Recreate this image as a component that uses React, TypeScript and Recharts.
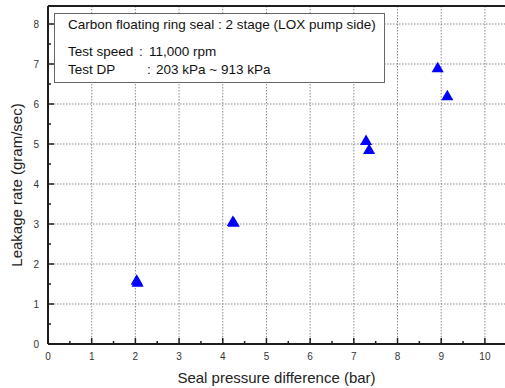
import { ScatterChart, Scatter, XAxis, YAxis, ZAxis, CartesianGrid, ReferenceLine } from "recharts";

// measured pairs (bar, gram/sec)
const pressureDiff = [2.03, 2.05, 4.23, 4.25, 7.28, 7.35, 8.92, 9.14];
const leakageRate = [1.57, 1.52, 3.04, 3.02, 5.06, 4.84, 6.88, 6.18];

const xTicks = [0, 0.5, 1, 1.5, 2, 2.5, 3, 3.5, 4, 4.5, 5, 5.5, 6, 6.5, 7, 7.5, 8, 8.5, 9, 9.5, 10];
const yTicks = [0, 0.5, 1, 1.5, 2, 2.5, 3, 3.5, 4, 4.5, 5, 5.5, 6, 6.5, 7, 7.5, 8];
const xGrid = [1, 2, 3, 4, 5, 6, 7, 8, 9, 10];
const yGrid = [1, 2, 3, 4, 5, 6, 7, 8];

const X_MAX = 10.46;
const Y_MAX = 8.45;

const noteTitle = "Carbon floating ring seal : 2 stage (LOX pump side)";
const noteRows = [
  { label: "Test speed", colonX: 139, valueX: 149, value: "11,000 rpm" },
  { label: "Test DP", colonX: 147, valueX: 156, value: "203 kPa ~ 913 kPa" },
];

const data = pressureDiff.map((x, i) => ({ x, y: leakageRate[i] }));

const FONT = "'Liberation Sans', Arial, sans-serif";
const AXIS_COLOR = "#1e1e1e";

// ticks point into the plot; half-unit ticks are shorter and unlabeled
function XTick(props: any) {
  const { x, y, payload } = props;
  const major = Number.isInteger(payload.value);
  return (
    <g>
      <line x1={x} y1={y} x2={x} y2={y - (major ? 6 : 3)} stroke={AXIS_COLOR} strokeWidth={1.5} />
      {major && (
        <text x={x} y={y + 16} textAnchor="middle" fontSize={10} fill="#333" fontFamily={FONT}>
          {payload.value}
        </text>
      )}
    </g>
  );
}

function YTick(props: any) {
  const { x, y, payload } = props;
  const major = Number.isInteger(payload.value);
  return (
    <g>
      <line x1={x} y1={y} x2={x + (major ? 6 : 3)} y2={y} stroke={AXIS_COLOR} strokeWidth={1.5} />
      {major && (
        <text x={x - 9} y={y + 3.5} textAnchor="end" fontSize={10} fill="#333" fontFamily={FONT}>
          {payload.value}
        </text>
      )}
    </g>
  );
}

export default function App() {
  return (
    <div style={{ position: "absolute", left: 0, top: 0, width: 505, height: 388, overflow: "hidden", background: "#fff", fontFamily: FONT }}>
      <ScatterChart width={505} height={388} margin={{ top: 6, right: 0, bottom: 0, left: 0 }}>
        <CartesianGrid
          stroke="#8a8a8a"
          strokeDasharray="1.5 1.5"
          verticalValues={xGrid}
          horizontalValues={yGrid}
        />
        <XAxis
          type="number"
          dataKey="x"
          domain={[0, X_MAX]}
          ticks={xTicks}
          interval={0}
          height={44}
          tickSize={0}
          tickMargin={0}
          tickLine={false}
          tick={<XTick />}
          axisLine={{ stroke: AXIS_COLOR, strokeWidth: 2 }}
          allowDataOverflow
          label={{ value: "Seal pressure difference (bar)", position: "insideBottom", offset: 5, fontSize: 15, fill: "#222", fontFamily: FONT }}
        />
        <YAxis
          type="number"
          dataKey="y"
          domain={[0, Y_MAX]}
          ticks={yTicks}
          interval={0}
          width={48}
          tickSize={0}
          tickMargin={0}
          tickLine={false}
          tick={<YTick />}
          axisLine={{ stroke: AXIS_COLOR, strokeWidth: 2 }}
          allowDataOverflow
          label={{ value: "Leakage rate (gram/sec)", angle: -90, position: "insideLeft", offset: 17, dy: 10, fontSize: 15, fill: "#222", fontFamily: FONT, style: { textAnchor: "middle" } }}
        />
        <ZAxis range={[20, 20]} />
        <ReferenceLine y={Y_MAX} stroke={AXIS_COLOR} strokeWidth={2} />
        <Scatter data={data} shape="triangle" fill="#0000ff" isAnimationActive={false} />
      </ScatterChart>

      <div
        style={{
          position: "absolute",
          left: 54,
          top: 13,
          width: 331,
          height: 70,
          boxSizing: "border-box",
          border: "1.5px solid #666",
          background: "#fff",
        }}
      />
      <div style={{ position: "absolute", left: 68, top: 17, fontSize: 13.5, lineHeight: "16px", color: "#111", whiteSpace: "nowrap" }}>
        {noteTitle}
      </div>
      {noteRows.map((row, i) => (
        <div key={row.label} style={{ position: "absolute", left: 0, top: 44 + i * 18, fontSize: 13.5, lineHeight: "16px", color: "#111", whiteSpace: "nowrap" }}>
          <span style={{ position: "absolute", left: 68 }}>{row.label}</span>
          <span style={{ position: "absolute", left: row.colonX }}>:</span>
          <span style={{ position: "absolute", left: row.valueX }}>{row.value}</span>
        </div>
      ))}
    </div>
  );
}
